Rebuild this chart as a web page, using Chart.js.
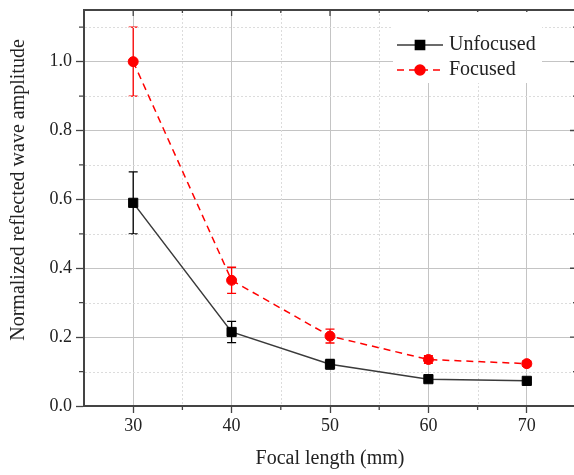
<!DOCTYPE html>
<html>
<head>
<meta charset="utf-8">
<script src="https://cdn.jsdelivr.net/npm/chart.js@4.4.1/dist/chart.umd.min.js"></script>
<style>
    html, body { margin: 0; padding: 0; background: #fff; overflow: hidden; }
    #wrap { width: 574px; height: 475px; overflow: hidden; }
    canvas { display: block; }
</style>
</head>
<body>
<div id="wrap"><canvas id="amplitude-chart" width="580" height="475"></canvas></div>
<script>
// focal length (mm) and normalized amplitudes with their error ranges
const focalLengths = [30, 40, 50, 60, 70];
const unfocused = [0.59, 0.215, 0.121, 0.078, 0.073];
const unfocusedErr = [0.09, 0.031, 0.014, 0.006, 0.005];
const focused = [1.0, 0.365, 0.203, 0.135, 0.123];
const focusedErr = [0.1, 0.038, 0.02, 0.011, 0.008];

const xTicks = [30, 40, 50, 60, 70];
const xMinorTicks = [35, 45, 55, 65];
const yTicks = [0, 0.2, 0.4, 0.6, 0.8, 1.0];
const yMinorTicks = [0.1, 0.3, 0.5, 0.7, 0.9, 1.1];

const serif = "'Liberation Serif', 'Times New Roman', serif";

function toPoints(xs, ys) {
    return xs.map((v, i) => ({ x: v, y: ys[i] }));
}

// error bars, drawn under the markers
const errorBars = {
    id: 'errorBars',
    beforeDatasetsDraw(chart) {
        const { ctx, scales: { x, y } } = chart;
        chart.data.datasets.forEach(ds => {
            ctx.save();
            ctx.strokeStyle = ds.pointBackgroundColor;
            ctx.lineWidth = 1.3;
            ds.data.forEach((p, i) => {
                const px = x.getPixelForValue(p.x);
                const top = y.getPixelForValue(p.y + ds.errors[i]);
                const bottom = y.getPixelForValue(p.y - ds.errors[i]);
                ctx.beginPath();
                ctx.moveTo(px, top); ctx.lineTo(px, bottom);
                ctx.moveTo(px - 4.5, top); ctx.lineTo(px + 4.5, top);
                ctx.moveTo(px - 4.5, bottom); ctx.lineTo(px + 4.5, bottom);
                ctx.stroke();
            });
            ctx.restore();
        });
    }
};

// minor grid, top/right frame, mirrored ticks, y title and legend box
const frame = {
    id: 'frame',
    beforeDatasetsDraw(chart) {
        const { ctx, chartArea: a, scales: { x, y } } = chart;
        ctx.save();
        ctx.strokeStyle = '#dcdcdc';
        ctx.lineWidth = 1;
        ctx.setLineDash([2, 2]);
        xMinorTicks.forEach(v => {
            const px = Math.round(x.getPixelForValue(v)) + 0.5;
            ctx.beginPath(); ctx.moveTo(px, a.top); ctx.lineTo(px, a.bottom - 1); ctx.stroke();
        });
        yMinorTicks.forEach(v => {
            const py = Math.round(y.getPixelForValue(v)) + 0.5;
            ctx.beginPath(); ctx.moveTo(a.left + 1, py); ctx.lineTo(a.right, py); ctx.stroke();
        });
        ctx.restore();
    },
    afterDraw(chart) {
        const { ctx, chartArea: a, scales: { x, y } } = chart;
        ctx.save();
        ctx.strokeStyle = '#444';
        ctx.lineWidth = 2;
        ctx.beginPath();
        ctx.moveTo(a.left, a.top); ctx.lineTo(a.right, a.top); ctx.lineTo(a.right, a.bottom);
        ctx.stroke();

        ctx.lineWidth = 1.3;
        ctx.beginPath();
        // bottom minor ticks (outside), top ticks (inside)
        xMinorTicks.forEach(v => {
            const px = x.getPixelForValue(v);
            ctx.moveTo(px, a.bottom); ctx.lineTo(px, a.bottom + 4);
            ctx.moveTo(px, a.top); ctx.lineTo(px, a.top + 3);
        });
        xTicks.forEach(v => {
            const px = x.getPixelForValue(v);
            ctx.moveTo(px, a.top); ctx.lineTo(px, a.top + 6);
        });
        // left minor ticks (outside), right ticks (inside)
        yMinorTicks.forEach(v => {
            const py = y.getPixelForValue(v);
            ctx.moveTo(a.left, py); ctx.lineTo(a.left - 5, py);
            ctx.moveTo(a.right, py); ctx.lineTo(a.right - 3, py);
        });
        yTicks.forEach(v => {
            const py = y.getPixelForValue(v);
            ctx.moveTo(a.right, py); ctx.lineTo(a.right - 6, py);
        });
        ctx.stroke();

        // y axis title
        ctx.fillStyle = '#222';
        ctx.font = '20px ' + serif;
        ctx.textAlign = 'center';
        ctx.textBaseline = 'middle';
        ctx.translate(19, 190);
        ctx.rotate(-Math.PI / 2);
        ctx.fillText('Normalized reflected wave amplitude', 0, 0);
        ctx.restore();

        // legend
        const lx = a.right - 183, ly = a.top + 2;
        ctx.save();
        ctx.fillStyle = '#fff';
        ctx.fillRect(lx, ly, 149, 71);
        chart.data.datasets.forEach((ds, i) => {
            const cy = ly + 33 + i * 25;
            ctx.strokeStyle = ds.borderColor;
            ctx.lineWidth = 1.5;
            ctx.setLineDash(ds.borderDash || []);
            ctx.beginPath();
            ctx.moveTo(lx + 4, cy); ctx.lineTo(lx + 50, cy);
            ctx.stroke();
            ctx.setLineDash([]);
            ctx.fillStyle = ds.pointBackgroundColor;
            ctx.strokeStyle = ds.pointBackgroundColor;
            Chart.helpers.drawPoint(ctx, {
                pointStyle: ds.pointStyle,
                radius: ds.pointRadius,
                rotation: 0,
                borderWidth: 1,
            }, lx + 27, cy);
            ctx.fillStyle = '#222';
            ctx.font = '20px ' + serif;
            ctx.textAlign = 'left';
            ctx.textBaseline = 'middle';
            ctx.fillText(ds.label, lx + 56, cy);
        });
        ctx.restore();
    }
};

const el = document.getElementById('amplitude-chart');
new Chart(el, {
    type: 'line',
    data: {
        datasets: [
            {
                label: 'Unfocused',
                data: toPoints(focalLengths, unfocused),
                errors: unfocusedErr,
                borderColor: '#3a3a3a',
                borderWidth: 1.5,
                pointStyle: 'rect',
                pointRadius: 6.5,
                pointBackgroundColor: '#000',
                pointBorderColor: '#000',
                pointBorderWidth: 1,
            },
            {
                label: 'Focused',
                data: toPoints(focalLengths, focused),
                errors: focusedErr,
                borderColor: '#ff0000',
                borderWidth: 1.5,
                borderDash: [7, 5],
                pointStyle: 'circle',
                pointRadius: 5,
                pointBackgroundColor: '#ff0000',
                pointBorderColor: '#ff0000',
                pointBorderWidth: 1,
            },
        ],
    },
    options: {
        responsive: false,
        animation: false,
        layout: { autoPadding: false, padding: { top: 10, right: 4, left: 0, bottom: 0 } },
        plugins: {
            legend: { display: false },
            tooltip: { enabled: false },
        },
        scales: {
            x: {
                type: 'linear',
                min: 25,
                max: 75,
                afterBuildTicks: (scale) => { scale.ticks = xTicks.map(v => ({ value: v })); },
                afterFit: (scale) => {
                    scale.height = 69;
                    scale.paddingLeft = 0;
                    scale.paddingRight = 0;
                },
                grid: { color: '#c4c4c4', lineWidth: 1, tickLength: 7, tickColor: '#444', tickWidth: 1.3 },
                border: { color: '#444', width: 2 },
                ticks: { color: '#222', font: { family: serif, size: 18 }, padding: 2, maxRotation: 0 },
                title: { display: true, text: 'Focal length (mm)', color: '#222', font: { family: serif, size: 20 }, padding: { top: 4, bottom: 4 } },
            },
            y: {
                type: 'linear',
                min: 0,
                max: 1.15,
                afterBuildTicks: (scale) => { scale.ticks = yTicks.map(v => ({ value: v })); },
                afterFit: (scale) => {
                    scale.width = 84;
                    scale.paddingTop = 0;
                    scale.paddingBottom = 0;
                },
                grid: { color: '#c4c4c4', lineWidth: 1, tickLength: 8, tickColor: '#444', tickWidth: 1.3 },
                border: { color: '#444', width: 2 },
                ticks: { color: '#222', font: { family: serif, size: 18 }, padding: 4, callback: (v) => v.toFixed(1) },
            },
        },
    },
    plugins: [errorBars, frame],
});
</script>
</body>
</html>
